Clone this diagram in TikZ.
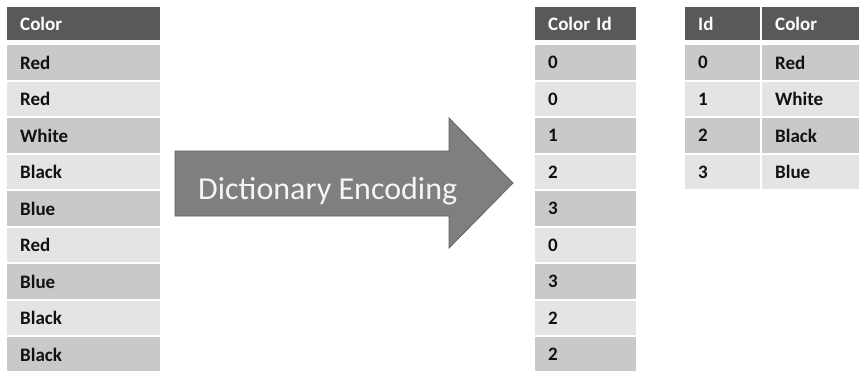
\documentclass[tikz,border=0pt]{standalone}
\usepackage{fontspec}
\setmainfont{Carlito}
\begin{document}
\begin{tikzpicture}[x=1pt,y=-1pt,
  cellbase/.style={anchor=north west, inner xsep=13pt, inner ysep=0pt, align=left,
    font=\fontsize{19}{21}\selectfont\bfseries, draw=none},
  headcell/.style={cellbase, fill=hdr, text=white, minimum height=33pt},
  darkcell/.style={cellbase, fill=rowdark, text=txt, minimum height=34.5pt},
  lightcell/.style={cellbase, fill=rowlight, text=txt, minimum height=34.5pt},
  arrowbody/.style={fill=arrowfill, draw=arrowedge, line width=0.8pt, line join=miter},
  arrowtext/.style={text=white!96!black, font=\fontsize{32}{36}\selectfont, inner sep=0pt}]
\definecolor{hdr}{HTML}{595959}
\definecolor{rowdark}{HTML}{C9C9C9}
\definecolor{rowlight}{HTML}{E4E4E4}
\definecolor{txt}{HTML}{111111}
\definecolor{arrowfill}{HTML}{7F7F7F}
\definecolor{arrowedge}{HTML}{626262}
\useasboundingbox[fill=white] (0,0) rectangle (859,370);

% original column of colour names
\node[headcell, text width=127pt] (lh) at (7,7) {Color};
\foreach \t [count=\i from 0] in {Red,Red,White,Black,Blue,Red,Blue,Black,Black}{
  \pgfmathsetmacro{\ytop}{45+36.5*\i}
  \ifodd\i
    \node[lightcell, text width=127pt] (l\i) at (7,\ytop) {\t};
  \else
    \node[darkcell, text width=127pt] (l\i) at (7,\ytop) {\t};
  \fi
}

% encoded column of ids
\node[headcell, text width=75pt] (mh) at (535,7) {Color Id};
\foreach \t [count=\i from 0] in {0,0,1,2,3,0,3,2,2}{
  \pgfmathsetmacro{\ytop}{45+36.5*\i}
  \ifodd\i
    \node[lightcell, text width=75pt] (m\i) at (535,\ytop) {\t};
  \else
    \node[darkcell, text width=75pt] (m\i) at (535,\ytop) {\t};
  \fi
}

% dictionary: id -> colour
\node[headcell, text width=49pt] (dh1) at (685,7) {Id};
\node[headcell, text width=74pt] (dh2) at (762,7) {Color};
\foreach \a/\b [count=\i from 0] in {0/Red,1/White,2/Black,3/Blue}{
  \pgfmathsetmacro{\ytop}{45+36.5*\i}
  \ifodd\i
    \node[lightcell, text width=49pt] (da\i) at (685,\ytop) {\a};
    \node[lightcell, text width=74pt] (db\i) at (762,\ytop) {\b};
  \else
    \node[darkcell, text width=49pt] (da\i) at (685,\ytop) {\a};
    \node[darkcell, text width=74pt] (db\i) at (762,\ytop) {\b};
  \fi
}

% block arrow
\draw[arrowbody] (175,151) -- (449,151) -- (449,118) -- (513,183)
  -- (449,248) -- (449,216) -- (175,216) -- cycle;
\node[arrowtext, anchor=base west] (enc) at (198,199) {Dictionary Encoding};
\end{tikzpicture}
\end{document}
